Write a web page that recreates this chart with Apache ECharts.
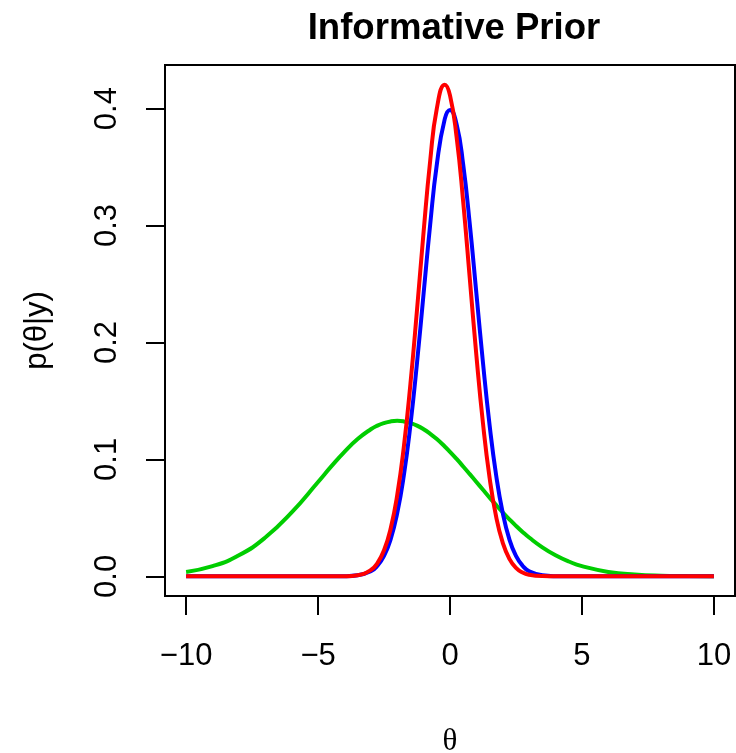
<!DOCTYPE html>
<html>
<head>
<meta charset="utf-8">
<script src="https://cdn.jsdelivr.net/npm/echarts@6/dist/echarts.min.js"></script>
<style>
  html, body { margin: 0; padding: 0; background: #fff; }
  #main { width: 736px; height: 753px; }
</style>
</head>
<body>
<div id="main"></div>
<script>
var thetaGrid = [-10, -9, -8, -7, -6, -5, -4.5, -4, -3.5, -3, -2.75, -2.5, -2.25, -2, -1.75, -1.5, -1.25, -1, -0.75, -0.5, -0.2,
    0, 0.25, 0.5, 0.75, 1, 1.25, 1.5, 1.75, 2, 2.25, 2.5, 2.75, 3, 3.5, 4, 4.5, 5, 6, 7, 8, 9, 10];

// green curve (prior)
var priorDensity = [0.0038, 0.0087, 0.0180, 0.0332, 0.0547, 0.0807, 0.0940, 0.1065, 0.1174, 0.1258, 0.1289, 0.1311, 0.1325, 0.1330, 0.1325, 0.1311, 0.1289, 0.1258, 0.1219, 0.1174, 0.1111,
    0.1065, 0.1004, 0.0940, 0.0874, 0.0807, 0.0740, 0.0673, 0.0609, 0.0547, 0.0488, 0.0432, 0.0380, 0.0332, 0.0248, 0.0180, 0.0127, 0.0087, 0.0038, 0.0015, 0.0005, 0.0002, 0.0000];

// blue curve (likelihood)
var likelihoodDensity = [0, 0, 0, 0, 0, 0, 0.0000, 0.0001, 0.0009, 0.0044, 0.0091, 0.0175, 0.0317, 0.0540, 0.0863, 0.1295, 0.1826, 0.2420, 0.3011, 0.3521, 0.3910,
    0.3989, 0.3867, 0.3521, 0.3011, 0.2420, 0.1826, 0.1295, 0.0863, 0.0540, 0.0317, 0.0175, 0.0091, 0.0044, 0.0009, 0.0001, 0, 0, 0, 0, 0, 0, 0];

// red curve (posterior)
var posteriorDensity = [0, 0, 0, 0, 0, 0, 0.0000, 0.0001, 0.0010, 0.0054, 0.0114, 0.0223, 0.0407, 0.0695, 0.1107, 0.1645, 0.2279, 0.2947, 0.3555, 0.4000, 0.4205,
    0.4113, 0.3758, 0.3203, 0.2547, 0.1889, 0.1308, 0.0844, 0.0508, 0.0286, 0.0150, 0.0073, 0.0033, 0.0014, 0.0002, 0.0000, 0, 0, 0, 0, 0, 0, 0];

var xTicks = [-10, -5, 0, 5, 10];
var yTicks = [0, 0.1, 0.2, 0.3, 0.4];

function pairs(ys) {
    var out = [];
    for (var i = 0; i < thetaGrid.length; i++) {
        out.push([thetaGrid[i], ys[i]]);
    }
    return out;
}

var myChart = echarts.init(document.getElementById('main'));

var sans = 'Liberation Sans, Arial, Helvetica, sans-serif';

function curve(name, ys, color) {
    return {
        name: name,
        type: 'line',
        data: pairs(ys),
        smooth: true,
        showSymbol: false,
        symbol: 'none',
        lineStyle: { color: color, width: 4 },
        itemStyle: { color: color },
        silent: true
    };
}

var option = {
    animation: false,
    backgroundColor: '#fff',
    title: {
        text: 'Informative Prior',
        left: 449,
        top: 6,
        textAlign: 'center',
        textStyle: {
            fontFamily: sans,
            fontWeight: 'bold',
            fontSize: 36.6,
            lineHeight: 36,
            color: '#000'
        }
    },
    grid: {
        left: 165,
        right: 1,
        top: 65,
        bottom: 157,
        outerBoundsMode: 'none',
        containLabel: false,
        show: true,
        borderColor: '#000',
        borderWidth: 2,
        backgroundColor: 'transparent'
    },
    xAxis: {
        type: 'value',
        min: -10.8,
        max: 10.8,
        name: 'θ',
        nameLocation: 'middle',
        nameGap: 130,
        nameTextStyle: {
            fontFamily: 'Liberation Serif, DejaVu Serif, serif',
            fontSize: 31,
            color: '#000'
        },
        axisLine: { show: false, onZero: false },
        splitLine: { show: false },
        axisTick: {
            show: true,
            length: 19,
            customValues: xTicks,
            lineStyle: { color: '#000', width: 2 }
        },
        axisLabel: {
            customValues: xTicks,
            margin: 45,
            fontFamily: sans,
            fontSize: 31,
            color: '#000',
            formatter: function (v) {
                return v < 0 ? '\u2212' + Math.abs(v) : String(v);
            }
        }
    },
    yAxis: {
        type: 'value',
        min: -0.0168,
        max: 0.4373,
        name: 'p(θ|y)',
        nameLocation: 'middle',
        nameRotate: 90,
        nameGap: 112,
        nameTextStyle: {
            fontFamily: sans,
            fontSize: 31,
            color: '#000'
        },
        axisLine: { show: false, onZero: false },
        splitLine: { show: false },
        axisTick: {
            show: true,
            length: 19,
            customValues: yTicks,
            lineStyle: { color: '#000', width: 2 }
        },
        axisLabel: {
            customValues: yTicks,
            rotate: 90,
            margin: 42,
            fontFamily: sans,
            fontSize: 31,
            color: '#000',
            formatter: function (v) {
                return v.toFixed(1);
            }
        }
    },
    series: [
        curve('prior', priorDensity, '#00CD00'),
        curve('likelihood', likelihoodDensity, '#0000FF'),
        curve('posterior', posteriorDensity, '#FF0000')
    ]
};

myChart.setOption(option);
</script>
</body>
</html>
